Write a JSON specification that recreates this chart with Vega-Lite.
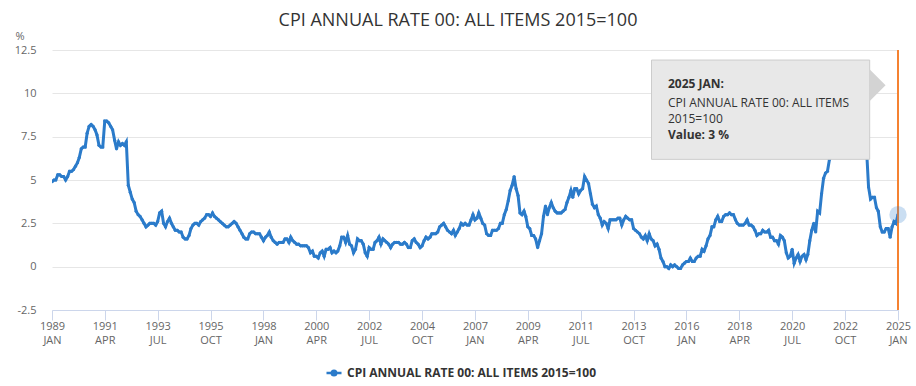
{
  "$schema": "https://vega.github.io/schema/vega-lite/v6.json",
  "width": 846,
  "height": 260,
  "autosize": {"type": "none"},
  "padding": {"left": 52, "top": 50, "right": 18, "bottom": 76},
  "background": "#ffffff",
  "title": {
    "text": "CPI ANNUAL RATE 00: ALL ITEMS 2015=100",
    "font": "Open Sans",
    "fontSize": 18,
    "fontWeight": "normal",
    "color": "#333333",
    "anchor": "middle",
    "frame": "group",
    "dx": -17,
    "offset": 0
  },
  "config": {
    "view": {"stroke": null},
    "font": "Open Sans"
  },
  "datasets": {
    "cpi": [
      {"d":"1989-01","v":4.9},{"d":"1989-02","v":5.0},{"d":"1989-03","v":5.0},{"d":"1989-04","v":5.3},{"d":"1989-05","v":5.3},{"d":"1989-06","v":5.2},{"d":"1989-07","v":5.2},{"d":"1989-08","v":5.0},{"d":"1989-09","v":5.2},{"d":"1989-10","v":5.5},{"d":"1989-11","v":5.5},{"d":"1989-12","v":5.6},
      {"d":"1990-01","v":5.8},{"d":"1990-02","v":6.0},{"d":"1990-03","v":6.3},{"d":"1990-04","v":6.8},{"d":"1990-05","v":6.9},{"d":"1990-06","v":6.9},{"d":"1990-07","v":7.7},{"d":"1990-08","v":8.1},{"d":"1990-09","v":8.2},{"d":"1990-10","v":8.1},{"d":"1990-11","v":7.9},{"d":"1990-12","v":7.6},
      {"d":"1991-01","v":7.0},{"d":"1991-02","v":6.9},{"d":"1991-03","v":6.9},{"d":"1991-04","v":8.4},{"d":"1991-05","v":8.4},{"d":"1991-06","v":8.3},{"d":"1991-07","v":8.1},{"d":"1991-08","v":7.9},{"d":"1991-09","v":7.3},{"d":"1991-10","v":6.8},{"d":"1991-11","v":7.2},{"d":"1991-12","v":7.0},
      {"d":"1992-01","v":7.1},{"d":"1992-02","v":7.0},{"d":"1992-03","v":7.2},{"d":"1992-04","v":4.7},{"d":"1992-05","v":4.3},{"d":"1992-06","v":3.9},{"d":"1992-07","v":3.7},{"d":"1992-08","v":3.2},{"d":"1992-09","v":3.0},{"d":"1992-10","v":2.9},{"d":"1992-11","v":2.7},{"d":"1992-12","v":2.5},
      {"d":"1993-01","v":2.3},{"d":"1993-02","v":2.4},{"d":"1993-03","v":2.5},{"d":"1993-04","v":2.5},{"d":"1993-05","v":2.5},{"d":"1993-06","v":2.4},{"d":"1993-07","v":2.6},{"d":"1993-08","v":3.1},{"d":"1993-09","v":3.2},{"d":"1993-10","v":2.5},{"d":"1993-11","v":2.3},{"d":"1993-12","v":2.6},
      {"d":"1994-01","v":2.8},{"d":"1994-02","v":2.5},{"d":"1994-03","v":2.3},{"d":"1994-04","v":2.1},{"d":"1994-05","v":2.1},{"d":"1994-06","v":2.0},{"d":"1994-07","v":2.0},{"d":"1994-08","v":1.7},{"d":"1994-09","v":1.6},{"d":"1994-10","v":1.6},{"d":"1994-11","v":1.8},{"d":"1994-12","v":2.2},
      {"d":"1995-01","v":2.4},{"d":"1995-02","v":2.5},{"d":"1995-03","v":2.5},{"d":"1995-04","v":2.4},{"d":"1995-05","v":2.6},{"d":"1995-06","v":2.7},{"d":"1995-07","v":2.8},{"d":"1995-08","v":3.0},{"d":"1995-09","v":3.0},{"d":"1995-10","v":2.9},{"d":"1995-11","v":3.1},{"d":"1995-12","v":2.9},
      {"d":"1996-01","v":2.8},{"d":"1996-02","v":2.7},{"d":"1996-03","v":2.6},{"d":"1996-04","v":2.5},{"d":"1996-05","v":2.4},{"d":"1996-06","v":2.3},{"d":"1996-07","v":2.3},{"d":"1996-08","v":2.4},{"d":"1996-09","v":2.5},{"d":"1996-10","v":2.6},{"d":"1996-11","v":2.5},{"d":"1996-12","v":2.3},
      {"d":"1997-01","v":2.1},{"d":"1997-02","v":1.9},{"d":"1997-03","v":1.7},{"d":"1997-04","v":1.6},{"d":"1997-05","v":1.6},{"d":"1997-06","v":1.9},{"d":"1997-07","v":2.0},{"d":"1997-08","v":2.0},{"d":"1997-09","v":1.9},{"d":"1997-10","v":1.9},{"d":"1997-11","v":1.9},{"d":"1997-12","v":1.7},
      {"d":"1998-01","v":1.5},{"d":"1998-02","v":1.7},{"d":"1998-03","v":1.8},{"d":"1998-04","v":2.0},{"d":"1998-05","v":1.7},{"d":"1998-06","v":1.5},{"d":"1998-07","v":1.4},{"d":"1998-08","v":1.3},{"d":"1998-09","v":1.4},{"d":"1998-10","v":1.4},{"d":"1998-11","v":1.4},{"d":"1998-12","v":1.6},
      {"d":"1999-01","v":1.6},{"d":"1999-02","v":1.4},{"d":"1999-03","v":1.7},{"d":"1999-04","v":1.5},{"d":"1999-05","v":1.4},{"d":"1999-06","v":1.3},{"d":"1999-07","v":1.3},{"d":"1999-08","v":1.2},{"d":"1999-09","v":1.2},{"d":"1999-10","v":1.2},{"d":"1999-11","v":1.2},{"d":"1999-12","v":1.1},
      {"d":"2000-01","v":0.8},{"d":"2000-02","v":0.9},{"d":"2000-03","v":0.6},{"d":"2000-04","v":0.6},{"d":"2000-05","v":0.5},{"d":"2000-06","v":0.8},{"d":"2000-07","v":0.9},{"d":"2000-08","v":0.6},{"d":"2000-09","v":1.0},{"d":"2000-10","v":1.0},{"d":"2000-11","v":1.1},{"d":"2000-12","v":0.8},
      {"d":"2001-01","v":0.9},{"d":"2001-02","v":0.8},{"d":"2001-03","v":0.9},{"d":"2001-04","v":1.2},{"d":"2001-05","v":1.7},{"d":"2001-06","v":1.7},{"d":"2001-07","v":1.4},{"d":"2001-08","v":1.8},{"d":"2001-09","v":1.3},{"d":"2001-10","v":1.2},{"d":"2001-11","v":0.8},{"d":"2001-12","v":1.0},
      {"d":"2002-01","v":1.6},{"d":"2002-02","v":1.5},{"d":"2002-03","v":1.5},{"d":"2002-04","v":1.3},{"d":"2002-05","v":0.8},{"d":"2002-06","v":0.6},{"d":"2002-07","v":1.1},{"d":"2002-08","v":1.0},{"d":"2002-09","v":1.0},{"d":"2002-10","v":1.4},{"d":"2002-11","v":1.5},{"d":"2002-12","v":1.7},
      {"d":"2003-01","v":1.3},{"d":"2003-02","v":1.6},{"d":"2003-03","v":1.5},{"d":"2003-04","v":1.4},{"d":"2003-05","v":1.3},{"d":"2003-06","v":1.1},{"d":"2003-07","v":1.3},{"d":"2003-08","v":1.4},{"d":"2003-09","v":1.4},{"d":"2003-10","v":1.4},{"d":"2003-11","v":1.3},{"d":"2003-12","v":1.3},
      {"d":"2004-01","v":1.4},{"d":"2004-02","v":1.3},{"d":"2004-03","v":1.1},{"d":"2004-04","v":1.1},{"d":"2004-05","v":1.5},{"d":"2004-06","v":1.6},{"d":"2004-07","v":1.4},{"d":"2004-08","v":1.3},{"d":"2004-09","v":1.1},{"d":"2004-10","v":1.2},{"d":"2004-11","v":1.5},{"d":"2004-12","v":1.7},
      {"d":"2005-01","v":1.6},{"d":"2005-02","v":1.7},{"d":"2005-03","v":1.9},{"d":"2005-04","v":1.9},{"d":"2005-05","v":1.9},{"d":"2005-06","v":2.0},{"d":"2005-07","v":2.3},{"d":"2005-08","v":2.4},{"d":"2005-09","v":2.5},{"d":"2005-10","v":2.3},{"d":"2005-11","v":2.1},{"d":"2005-12","v":2.0},
      {"d":"2006-01","v":1.9},{"d":"2006-02","v":2.1},{"d":"2006-03","v":1.8},{"d":"2006-04","v":2.0},{"d":"2006-05","v":2.2},{"d":"2006-06","v":2.5},{"d":"2006-07","v":2.4},{"d":"2006-08","v":2.5},{"d":"2006-09","v":2.4},{"d":"2006-10","v":2.4},{"d":"2006-11","v":2.7},{"d":"2006-12","v":3.0},
      {"d":"2007-01","v":2.7},{"d":"2007-02","v":2.8},{"d":"2007-03","v":3.1},{"d":"2007-04","v":2.8},{"d":"2007-05","v":2.5},{"d":"2007-06","v":2.4},{"d":"2007-07","v":1.9},{"d":"2007-08","v":1.8},{"d":"2007-09","v":1.8},{"d":"2007-10","v":2.1},{"d":"2007-11","v":2.1},{"d":"2007-12","v":2.1},
      {"d":"2008-01","v":2.2},{"d":"2008-02","v":2.5},{"d":"2008-03","v":2.5},{"d":"2008-04","v":3.0},{"d":"2008-05","v":3.3},{"d":"2008-06","v":3.8},{"d":"2008-07","v":4.4},{"d":"2008-08","v":4.7},{"d":"2008-09","v":5.2},{"d":"2008-10","v":4.5},{"d":"2008-11","v":4.1},{"d":"2008-12","v":3.1},
      {"d":"2009-01","v":3.0},{"d":"2009-02","v":3.2},{"d":"2009-03","v":2.9},{"d":"2009-04","v":2.3},{"d":"2009-05","v":2.2},{"d":"2009-06","v":1.8},{"d":"2009-07","v":1.8},{"d":"2009-08","v":1.6},{"d":"2009-09","v":1.1},{"d":"2009-10","v":1.5},{"d":"2009-11","v":1.9},{"d":"2009-12","v":2.9},
      {"d":"2010-01","v":3.5},{"d":"2010-02","v":3.0},{"d":"2010-03","v":3.4},{"d":"2010-04","v":3.7},{"d":"2010-05","v":3.4},{"d":"2010-06","v":3.2},{"d":"2010-07","v":3.1},{"d":"2010-08","v":3.1},{"d":"2010-09","v":3.1},{"d":"2010-10","v":3.2},{"d":"2010-11","v":3.3},{"d":"2010-12","v":3.7},
      {"d":"2011-01","v":4.0},{"d":"2011-02","v":4.4},{"d":"2011-03","v":4.0},{"d":"2011-04","v":4.5},{"d":"2011-05","v":4.5},{"d":"2011-06","v":4.2},{"d":"2011-07","v":4.4},{"d":"2011-08","v":4.5},{"d":"2011-09","v":5.2},{"d":"2011-10","v":5.0},{"d":"2011-11","v":4.8},{"d":"2011-12","v":4.2},
      {"d":"2012-01","v":3.6},{"d":"2012-02","v":3.4},{"d":"2012-03","v":3.5},{"d":"2012-04","v":3.0},{"d":"2012-05","v":2.8},{"d":"2012-06","v":2.4},{"d":"2012-07","v":2.6},{"d":"2012-08","v":2.5},{"d":"2012-09","v":2.2},{"d":"2012-10","v":2.7},{"d":"2012-11","v":2.7},{"d":"2012-12","v":2.7},
      {"d":"2013-01","v":2.7},{"d":"2013-02","v":2.8},{"d":"2013-03","v":2.8},{"d":"2013-04","v":2.4},{"d":"2013-05","v":2.7},{"d":"2013-06","v":2.9},{"d":"2013-07","v":2.8},{"d":"2013-08","v":2.7},{"d":"2013-09","v":2.7},{"d":"2013-10","v":2.2},{"d":"2013-11","v":2.1},{"d":"2013-12","v":2.0},
      {"d":"2014-01","v":1.9},{"d":"2014-02","v":1.7},{"d":"2014-03","v":1.6},{"d":"2014-04","v":1.8},{"d":"2014-05","v":1.5},{"d":"2014-06","v":1.9},{"d":"2014-07","v":1.6},{"d":"2014-08","v":1.5},{"d":"2014-09","v":1.2},{"d":"2014-10","v":1.3},{"d":"2014-11","v":1.0},{"d":"2014-12","v":0.5},
      {"d":"2015-01","v":0.3},{"d":"2015-02","v":0.0},{"d":"2015-03","v":0.0},{"d":"2015-04","v":-0.1},{"d":"2015-05","v":0.1},{"d":"2015-06","v":0.0},{"d":"2015-07","v":0.1},{"d":"2015-08","v":0.0},{"d":"2015-09","v":-0.1},{"d":"2015-10","v":-0.1},{"d":"2015-11","v":0.1},{"d":"2015-12","v":0.2},
      {"d":"2016-01","v":0.3},{"d":"2016-02","v":0.3},{"d":"2016-03","v":0.5},{"d":"2016-04","v":0.3},{"d":"2016-05","v":0.3},{"d":"2016-06","v":0.5},{"d":"2016-07","v":0.6},{"d":"2016-08","v":0.6},{"d":"2016-09","v":1.0},{"d":"2016-10","v":0.9},{"d":"2016-11","v":1.2},{"d":"2016-12","v":1.6},
      {"d":"2017-01","v":1.8},{"d":"2017-02","v":2.3},{"d":"2017-03","v":2.3},{"d":"2017-04","v":2.7},{"d":"2017-05","v":2.9},{"d":"2017-06","v":2.6},{"d":"2017-07","v":2.6},{"d":"2017-08","v":2.9},{"d":"2017-09","v":3.0},{"d":"2017-10","v":3.0},{"d":"2017-11","v":3.1},{"d":"2017-12","v":3.0},
      {"d":"2018-01","v":3.0},{"d":"2018-02","v":2.7},{"d":"2018-03","v":2.5},{"d":"2018-04","v":2.4},{"d":"2018-05","v":2.4},{"d":"2018-06","v":2.4},{"d":"2018-07","v":2.5},{"d":"2018-08","v":2.7},{"d":"2018-09","v":2.4},{"d":"2018-10","v":2.4},{"d":"2018-11","v":2.3},{"d":"2018-12","v":2.1},
      {"d":"2019-01","v":1.8},{"d":"2019-02","v":1.9},{"d":"2019-03","v":1.9},{"d":"2019-04","v":2.1},{"d":"2019-05","v":2.0},{"d":"2019-06","v":2.0},{"d":"2019-07","v":2.1},{"d":"2019-08","v":1.7},{"d":"2019-09","v":1.7},{"d":"2019-10","v":1.5},{"d":"2019-11","v":1.5},{"d":"2019-12","v":1.3},
      {"d":"2020-01","v":1.8},{"d":"2020-02","v":1.7},{"d":"2020-03","v":1.5},{"d":"2020-04","v":0.8},{"d":"2020-05","v":0.5},{"d":"2020-06","v":0.6},{"d":"2020-07","v":1.0},{"d":"2020-08","v":0.2},{"d":"2020-09","v":0.5},{"d":"2020-10","v":0.7},{"d":"2020-11","v":0.3},{"d":"2020-12","v":0.6},
      {"d":"2021-01","v":0.7},{"d":"2021-02","v":0.4},{"d":"2021-03","v":0.7},{"d":"2021-04","v":1.5},{"d":"2021-05","v":2.1},{"d":"2021-06","v":2.5},{"d":"2021-07","v":2.0},{"d":"2021-08","v":3.2},{"d":"2021-09","v":3.1},{"d":"2021-10","v":4.2},{"d":"2021-11","v":5.1},{"d":"2021-12","v":5.4},
      {"d":"2022-01","v":5.5},{"d":"2022-02","v":6.2},{"d":"2022-03","v":7.0},{"d":"2022-04","v":9.0},{"d":"2022-05","v":9.1},{"d":"2022-06","v":9.4},{"d":"2022-07","v":10.1},{"d":"2022-08","v":9.9},{"d":"2022-09","v":10.1},{"d":"2022-10","v":11.1},{"d":"2022-11","v":10.7},{"d":"2022-12","v":10.5},
      {"d":"2023-01","v":10.1},{"d":"2023-02","v":10.4},{"d":"2023-03","v":10.1},{"d":"2023-04","v":8.7},{"d":"2023-05","v":8.7},{"d":"2023-06","v":7.9},{"d":"2023-07","v":6.8},{"d":"2023-08","v":6.7},{"d":"2023-09","v":6.7},{"d":"2023-10","v":4.6},{"d":"2023-11","v":3.9},{"d":"2023-12","v":4.0},
      {"d":"2024-01","v":4.0},{"d":"2024-02","v":3.4},{"d":"2024-03","v":3.2},{"d":"2024-04","v":2.3},{"d":"2024-05","v":2.0},{"d":"2024-06","v":2.0},{"d":"2024-07","v":2.2},{"d":"2024-08","v":2.2},{"d":"2024-09","v":1.7},{"d":"2024-10","v":2.3},{"d":"2024-11","v":2.6},{"d":"2024-12","v":2.5},
      {"d":"2025-01","v":3.0}
    ],
    "tipBold": [
      {"t": "2025 JAN:", "y": 10.52},
      {"t": "Value: 3 %", "y": 7.58}
    ],
    "tipText": [
      {"t": "CPI ANNUAL RATE 00: ALL ITEMS", "y": 9.46},
      {"t": "2015=100", "y": 8.5}
    ]
  },
  "layer": [
    {
      "data": {"name": "cpi"},
      "mark": {"type": "line", "strokeWidth": 3, "point": {"filled": true, "size": 10}, "clip": true},
      "encoding": {
        "x": {
          "field": "d", "type": "temporal",
          "scale": {"type": "utc", "domain": [{"year": 1989, "month": 1, "date": 1, "utc": true}, {"year": 2025, "month": 1, "date": 1, "utc": true}], "nice": false},
          "axis": {
            "title": null,
            "grid": false,
            "values": [
              {"year": 1989, "month": 1, "date": 1, "utc": true},
              {"year": 1991, "month": 4, "date": 1, "utc": true},
              {"year": 1993, "month": 7, "date": 1, "utc": true},
              {"year": 1995, "month": 10, "date": 1, "utc": true},
              {"year": 1998, "month": 1, "date": 1, "utc": true},
              {"year": 2000, "month": 4, "date": 1, "utc": true},
              {"year": 2002, "month": 7, "date": 1, "utc": true},
              {"year": 2004, "month": 10, "date": 1, "utc": true},
              {"year": 2007, "month": 1, "date": 1, "utc": true},
              {"year": 2009, "month": 4, "date": 1, "utc": true},
              {"year": 2011, "month": 7, "date": 1, "utc": true},
              {"year": 2013, "month": 10, "date": 1, "utc": true},
              {"year": 2016, "month": 1, "date": 1, "utc": true},
              {"year": 2018, "month": 4, "date": 1, "utc": true},
              {"year": 2020, "month": 7, "date": 1, "utc": true},
              {"year": 2022, "month": 10, "date": 1, "utc": true},
              {"year": 2025, "month": 1, "date": 1, "utc": true}
            ],
            "labelExpr": "[utcFormat(datum.value, '%Y'), upper(utcFormat(datum.value, '%b'))]",
            "labelFont": "Open Sans",
            "labelFontSize": 11,
            "labelColor": "#666666",
            "labelLineHeight": 14.5,
            "labelPadding": 0,
            "labelOverlap": false,
            "labelFlush": false,
            "tickColor": "#ccd6eb",
            "tickSize": 10,
            "domainColor": "#ccd6eb"
          }
        },
        "y": {
          "field": "v", "type": "quantitative",
          "scale": {"domain": [-2.5, 12.5], "nice": false, "zero": false},
          "axis": {
            "title": "%",
            "titleAngle": 0,
            "titleAlign": "left",
            "titleBaseline": "middle",
            "titleX": -37,
            "titleY": -14,
            "titleFont": "Open Sans",
            "titleFontSize": 11,
            "titleFontWeight": "normal",
            "titleColor": "#666666",
            "values": [-2.5, 0, 2.5, 5, 7.5, 10, 12.5],
            "labelExpr": "'' + datum.value",
            "labelFont": "Open Sans",
            "labelFontSize": 11,
            "labelColor": "#666666",
            "labelPadding": 16,
            "ticks": false,
            "domain": false,
            "gridColor": "#e6e6e6",
            "gridWidth": 1
          }
        },
        "color": {
          "datum": "CPI ANNUAL RATE 00: ALL ITEMS 2015=100",
          "type": "nominal",
          "scale": {"range": ["#2b7bca"]},
          "legend": {
            "title": null,
            "orient": "none",
            "legendX": 273,
            "legendY": 314,
            "direction": "horizontal",
            "labelFont": "Open Sans",
            "labelFontSize": 12,
            "labelFontWeight": "bold",
            "labelColor": "#333333",
            "labelLimit": 0,
            "symbolType": "M-1,0H1M-0.3,0A0.3,0.3 0 1,0 0.3,0A0.3,0.3 0 1,0 -0.3,0",
            "symbolSize": 225,
            "symbolStrokeWidth": 2.5,
            "symbolStrokeColor": "#2b7bca",
            "symbolFillColor": "#2b7bca"
          }
        }
      }
    },
    {
      "data": {"values": [{}]},
      "mark": {"type": "rule", "color": "#f58231", "strokeWidth": 2},
      "encoding": {"x": {"datum": {"year": 2025, "month": 1, "date": 1, "utc": true}, "type": "temporal"}}
    },
    {
      "data": {"values": [{}]},
      "mark": {"type": "point", "shape": "circle", "filled": true, "size": 300, "color": "#2b7bca", "opacity": 0.25},
      "encoding": {
        "x": {"datum": {"year": 2025, "month": 1, "date": 1, "utc": true}, "type": "temporal"},
        "y": {"datum": 3.0, "type": "quantitative"}
      }
    },
    {
      "data": {"values": [{}]},
      "mark": {"type": "rect", "fill": "#e8e8e8", "stroke": "#cccccc", "strokeWidth": 1},
      "encoding": {
        "x": {"datum": {"year": 2014, "month": 7, "date": 7, "utc": true}, "type": "temporal"},
        "x2": {"datum": {"year": 2023, "month": 10, "date": 19, "utc": true}},
        "y": {"datum": 11.92, "type": "quantitative"},
        "y2": {"datum": 6.19}
      }
    },
    {
      "data": {"values": [{}]},
      "mark": {"type": "point", "shape": "M-1,-1L0,0L-1,1Z", "filled": true, "size": 1024, "color": "#d3d3d3", "opacity": 1},
      "encoding": {
        "x": {"datum": {"year": 2024, "month": 6, "date": 22, "utc": true}, "type": "temporal"},
        "y": {"datum": 10.46, "type": "quantitative"}
      }
    },
    {
      "data": {"name": "tipBold"},
      "mark": {"type": "text", "align": "left", "baseline": "middle", "font": "Open Sans", "fontSize": 12, "fontWeight": "bold", "color": "#333333"},
      "encoding": {
        "x": {"datum": {"year": 2015, "month": 3, "date": 19, "utc": true}, "type": "temporal"},
        "y": {"field": "y", "type": "quantitative"},
        "text": {"field": "t"}
      }
    },
    {
      "data": {"name": "tipText"},
      "mark": {"type": "text", "align": "left", "baseline": "middle", "font": "Open Sans", "fontSize": 12, "fontWeight": "normal", "color": "#333333"},
      "encoding": {
        "x": {"datum": {"year": 2015, "month": 3, "date": 19, "utc": true}, "type": "temporal"},
        "y": {"field": "y", "type": "quantitative"},
        "text": {"field": "t"}
      }
    }
  ]
}
